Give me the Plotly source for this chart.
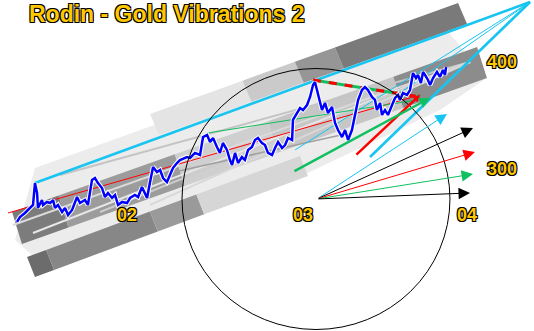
import numpy as np
import plotly.graph_objects as go

# ---------------- data (year, gold price) ----------------
years = [2001.375,2001.392,2001.420,2001.449,2001.466,2001.477,2001.489,2001.494,2001.517,2001.523,
         2001.545,2001.563,2001.580,2001.591,2001.608,2001.631,2001.648,2001.665,2001.688,2001.716,
         2001.733,2001.761,2001.778,2001.801,2001.818,2001.835,2001.858,2001.875,2001.892,2001.915,
         2001.932,2001.949,2001.972,2002.000,2002.017,2002.045,2002.063,2002.085,2002.102,2002.114,
         2002.131,2002.148,2002.170,2002.188,2002.205,2002.227,2002.244,2002.261,2002.284,
         2002.301,2002.341,2002.358,2002.386,2002.415,2002.432,2002.455,2002.472,2002.489,2002.511,
         2002.528,2002.545,2002.568,2002.585,2002.597,2002.614,2002.631,2002.653,2002.670,2002.688,
         2002.710,2002.727,2002.744,2002.767,2002.784,2002.801,2002.824,2002.841,2002.858,2002.881,
         2002.898,2002.915,2002.938,2002.943,2002.966,2002.983,2003.000,2003.023,2003.040,2003.057,
         2003.068,2003.080,2003.091,2003.108,2003.125,2003.142,2003.165,2003.182,2003.199,2003.222,
         2003.239,2003.256,
         2003.278,2003.295,2003.313,2003.335,2003.352,2003.369,2003.392,2003.409,2003.420,2003.438,
         2003.449,2003.466,2003.483,2003.506,2003.523,2003.540,2003.551,2003.568,2003.591,2003.608,
         2003.619,2003.625,2003.642,2003.653,2003.670,2003.682,2003.693,2003.710,2003.722,2003.739,
         2003.761,2003.778,2003.795,2003.807,2003.813]
prices = [250.5,255.1,258.9,263.6,266.4,286.9,277.6,263.6,271.0,266.4,
          269.2,268.2,271.0,263.6,266.4,259.8,263.6,257.0,261.7,273.8,
          268.2,271.0,266.4,289.7,291.6,286.9,282.2,273.8,277.6,272.9,
          275.7,266.4,269.2,268.2,272.9,275.7,273.8,283.2,277.6,272.9,
          287.8,301.9,297.2,299.1,291.6,287.8,294.4,300.9,305.6,
          308.4,311.2,310.3,315.0,313.1,329.9,331.8,325.2,329.0,320.6,
          315.0,324.3,317.8,308.4,303.7,315.0,305.6,311.2,308.4,317.8,
          320.6,327.1,329.0,324.3,322.4,315.0,313.1,319.6,325.2,319.6,
          322.4,329.0,327.1,345.8,352.3,357.0,355.1,359.8,367.3,378.5,
          381.3,373.8,364.5,355.1,361.7,352.3,357.9,343.0,336.4,329.9,
          336.4,327.1,
          336.4,350.5,364.5,373.8,376.6,373.8,367.3,364.5,355.1,361.7,
          350.5,355.1,350.5,359.8,366.4,369.2,364.5,371.0,369.2,373.8,
          383.2,389.7,385.0,387.9,380.4,390.7,387.9,383.2,378.5,385.0,
          390.7,386.0,392.5,387.9,395.3]

year_ticks = [2002.0, 2003.0, 2003.932]
year_labels = ["02", "03", "04"]
year_label_price = 257.0
price_ticks = [400, 300]
price_label_year = 2004.131

title = "Rodin - Gold Vibrations 2"

# channel bands: corners TL, TR, BR, BL (year, price) and colour stops (fraction, colour)
band_b = [(2001.347, 259.8), (2003.989, 414.0), (2004.045, 385.0), (2001.403, 229.9)]
band_b_stops = [(0.00, 0.10, "#7c7c7c"), (0.10, 0.35, "#9c9c9c"), (0.35, 0.55, "#cfcfcf"),
                (0.55, 0.82, "#c6c6c6"), (0.82, 1.00, "#8c8c8c")]
band_a = [(2002.131, 351.4), (2003.881, 455.1), (2003.932, 435.5), (2002.182, 331.8)]
band_a_stops = [(0.00, 0.30, "#e4e4e4"), (0.30, 0.47, "#cacaca"), (0.47, 0.60, "#969696"),
                (0.60, 1.00, "#7a7a7a")]
band_c = [(2001.432, 217.8), (2002.983, 312.1), (2003.028, 293.5), (2001.477, 199.1)]
band_c_stops = [(0.00, 0.07, "#6c6c6c"), (0.07, 0.45, "#878787"), (0.45, 0.62, "#9a9a9a"),
                (0.62, 1.00, "#d6d6d6")]
haze_years = [2001.477, 2003.778, 2004.045, 2003.778, 2002.943, 2002.301, 2001.506, 2001.364]
haze_prices = [300.9, 437.4, 385.0, 355.1, 289.7, 257.0, 213.1, 233.6]

# fan of light lines converging to the channel end
fan_end = (2003.949, 400.0)
fan_starts = [(2001.619, 294.4, "#c4c4c4"), (2001.352, 247.7, "#dadada"), (2001.466, 240.2, "#e6e6e6"),
              (2001.847, 259.8, "#cccccc"), (2002.131, 266.4, "#d8d8d8")]
grey_line = [(2002.244, 296.3), (2003.267, 333.6)]

# trend lines  (start, end, colour, width)
apex = (2004.290, 456.1)
trend_lines = [
    ((2001.477, 286.9), apex, "#18c4f0", 2.6),
    ((2003.381, 311.2), apex, "#18c4f0", 2.6),
    ((2002.955, 317.8), apex, "#18c4f0", 1.0),
    ((2003.534, 369.2), apex, "#18c4f0", 1.0),
    ((2001.324, 258.9), (2003.665, 369.2), "#ff0000", 1.0),
    ((2002.455, 333.6), (2003.722, 366.4), "#10c060", 1.0),
]
dashed_line = [(2003.057, 383.2), (2003.665, 367.3)]
thick_arrows = [((2003.295, 312.1), (2003.665, 369.2), "#ff0000", 0.55),
                ((2002.943, 297.2), (2003.722, 366.4), "#10c060", 0.85)]

# vibration fan from the circle centre
origin = (2003.080, 272.0)
fan_tips = [(2003.818, 351.4, "#18c4f0"), (2003.966, 338.3, "#000000"), (2003.977, 315.9, "#ff0000"),
            (2003.966, 295.3, "#10c060"), (2003.949, 277.6, "#000000")]
circle_box = (2002.3125, 2003.835, 150.0, 393.9)

x_range = [2001.2784, 2004.3125]
y_range = [148.6, 457.94]

# ---------------- figure ----------------
fig = go.Figure()

def poly(xs, ys, color):
    fig.add_trace(go.Scatter(x=list(xs) + [xs[0]], y=list(ys) + [ys[0]], fill="toself",
                             fillcolor=color, mode="lines", line=dict(width=0, color=color),
                             hoverinfo="skip", showlegend=False))

def band(corners, stops):
    tl, tr, br, bl = [np.array(c) for c in corners]
    for f0, f1, col in stops:
        p1 = tl + f0 * (tr - tl); p2 = tl + f1 * (tr - tl)
        p3 = bl + f1 * (br - bl); p4 = bl + f0 * (br - bl)
        poly([p1[0], p2[0], p3[0], p4[0]], [p1[1], p2[1], p3[1], p4[1]], col)

def seg(a, b, color, width, dash=None):
    fig.add_trace(go.Scatter(x=[a[0], b[0]], y=[a[1], b[1]], mode="lines",
                             line=dict(color=color, width=width, dash=dash),
                             hoverinfo="skip", showlegend=False))

poly(haze_years, haze_prices, "#ececec")
band(band_c, band_c_stops)
band(band_b, band_b_stops)
band(band_a, band_a_stops)

for sx, sy, col in fan_starts:
    seg((sx, sy), fan_end, col, 2)
seg(grey_line[0], grey_line[1], "#a0a0a0", 1.5)

for a, b, col, w in trend_lines:
    seg(a, b, col, w)
seg(dashed_line[0], dashed_line[1], "#10c060", 3)
seg(dashed_line[0], dashed_line[1], "#ff0000", 3, dash="8px,8px")

# white halo and price line
fig.add_trace(go.Scatter(x=years, y=prices, mode="lines", line=dict(color="white", width=4.5),
                         hoverinfo="skip", showlegend=False))
fig.add_trace(go.Scatter(x=years, y=prices, mode="lines", line=dict(color="#0000ff", width=2.5),
                         hoverinfo="skip", showlegend=False))

fig.add_shape(type="circle", xref="x", yref="y", x0=circle_box[0], x1=circle_box[1],
              y0=circle_box[2], y1=circle_box[3], line=dict(color="black", width=1))

ann = []
for a, b, col, hs in thick_arrows:
    ann.append(dict(x=b[0], y=b[1], ax=a[0], ay=a[1], xref="x", yref="y", axref="x", ayref="y",
                    showarrow=True, arrowhead=2, arrowsize=hs, arrowwidth=2.5, arrowcolor=col, text=""))
for tx, ty, col in fan_tips:
    ann.append(dict(x=tx, y=ty, ax=origin[0], ay=origin[1], xref="x", yref="y", axref="x", ayref="y",
                    showarrow=True, arrowhead=2, arrowsize=2.3, arrowwidth=1, arrowcolor=col, text=""))

outline = "1px 1px 0 #000, -1px -1px 0 #000, 1px -1px 0 #000, -1px 1px 0 #000"
lab_font = dict(family="Liberation Sans", size=18, color="#FFC800", shadow=outline)
for xv, t in zip(year_ticks, year_labels):
    ann.append(dict(x=xv, y=year_label_price, xref="x", yref="y", text="<b>%s</b>" % t,
                    showarrow=False, font=lab_font, xanchor="center", yanchor="middle"))
for pv in price_ticks:
    ann.append(dict(x=price_label_year, y=pv, xref="x", yref="y", text="<b>%d</b>" % pv,
                    showarrow=False, font=lab_font, xanchor="center", yanchor="middle"))
ann.append(dict(x=27 / 534, y=1 - 14 / 331, xref="paper", yref="paper", text="<b>%s</b>" % title,
                showarrow=False, xanchor="left", yanchor="middle",
                font=dict(family="Liberation Sans", size=23, color="#FFC800", shadow=outline)))

fig.update_layout(width=534, height=331, margin=dict(l=0, r=0, t=0, b=0),
                  paper_bgcolor="white", plot_bgcolor="white", annotations=ann, showlegend=False,
                  xaxis=dict(range=x_range, visible=False, fixedrange=True),
                  yaxis=dict(range=y_range, visible=False, fixedrange=True))
fig.write_html("out.html")
